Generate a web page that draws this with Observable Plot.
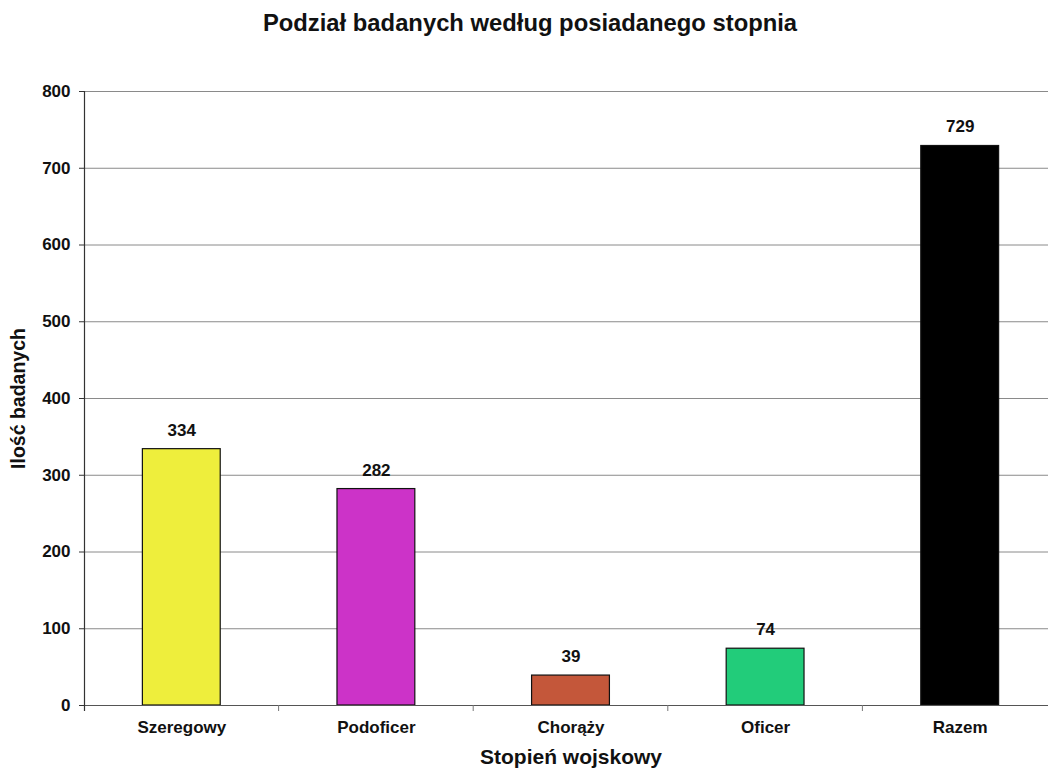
<!DOCTYPE html>
<html>
<head>
<meta charset="utf-8">
<script src="https://cdn.jsdelivr.net/npm/d3@7"></script>
<script src="https://cdn.jsdelivr.net/npm/@observablehq/plot@0.6"></script>
<style>
  html, body { margin: 0; padding: 0; background: #fff; overflow: hidden; width: 1048px; height: 770px; }
  #title { height: 50px; width: 1048px; box-sizing: border-box; padding-left: 12px; text-align: center; font-family: "Liberation Sans", Arial, sans-serif; font-weight: bold; font-size: 23.8px; line-height: 46px; color: #111; }
  #chart { width: 1048px; overflow: hidden; }
  #chart svg { display: block; max-width: none !important; }
</style>
</head>
<body>
<div id="title">Podział badanych według posiadanego stopnia</div>
<div id="chart"></div>
<script>
const categories = ["Szeregowy", "Podoficer", "Chorąży", "Oficer", "Razem"];
const values = [334, 282, 39, 74, 729];
const colors = ["#eeee3c", "#cc33c8", "#c4573a", "#22cc7a", "#000000"];
const yTicks = [0, 100, 200, 300, 400, 500, 600, 700, 800];

const data = categories.map((c, i) => ({category: c, value: values[i], color: colors[i]}));

const W = 1058, H = 720, mL = 84, mR = 1, mT = 41, mB = 65;
const font = '"Liberation Sans", Arial, sans-serif';

const plot = Plot.plot({
  width: W,
  height: H,
  marginLeft: mL,
  marginRight: mR,
  marginTop: mT,
  marginBottom: mB,
  style: {fontFamily: font, fontSize: "17px", fontWeight: "bold", color: "#111", background: "#fff", overflow: "visible", maxWidth: "none"},
  x: {domain: categories, paddingInner: 0.6, paddingOuter: 0.3, round: false, label: null},
  y: {domain: [0, 800], ticks: yTicks, label: null},
  marks: [
    Plot.gridY(yTicks.slice(1), {stroke: "#8a8a8a", strokeOpacity: 1, strokeWidth: 1}),
    Plot.barY(data, {x: "category", y: "value", fill: "color", stroke: "#111", strokeWidth: 1.2}),
    Plot.text(data, {x: "category", y: "value", text: d => String(d.value), dy: -19, fontSize: 17, fontWeight: "bold", fill: "#111"}),
    Plot.ruleY([0], {stroke: "#555", strokeWidth: 1.2}),
    Plot.axisY({ticks: yTicks, tickSize: 5, tickPadding: 9, fontSize: 17, fontWeight: "bold", label: null, stroke: "#333"}),
    Plot.axisX({tickSize: 0, tickPadding: 15, fontSize: 17, fontWeight: "bold", label: null}),
    Plot.text(["Stopień wojskowy"], {frameAnchor: "bottom", lineAnchor: "middle", dy: 52, text: d => d, fontSize: 21, fontWeight: "bold", fill: "#111"}),
    Plot.text(["Ilość badanych"], {frameAnchor: "left", textAnchor: "middle", lineAnchor: "middle", dx: -66, rotate: -90, text: d => d, fontSize: 19.5, fontWeight: "bold", fill: "#111"})
  ]
});

const svg = d3.select(plot);
// vertical axis line
svg.append("line").attr("x1", mL + 0.5).attr("x2", mL + 0.5).attr("y1", mT).attr("y2", H - mB + 6)
  .attr("stroke", "#333").attr("stroke-width", 1.2);
// small x tick marks at band boundaries
const xs = plot.scale("x");
const gap = xs.step * 0.6 / 2;
categories.slice(1).forEach(c => {
  const px = xs.apply(c) - gap;
  svg.append("line").attr("x1", px).attr("x2", px).attr("y1", H - mB).attr("y2", H - mB + 6)
    .attr("stroke", "#777").attr("stroke-width", 1);
});
document.getElementById("chart").appendChild(plot);
</script>
</body>
</html>
